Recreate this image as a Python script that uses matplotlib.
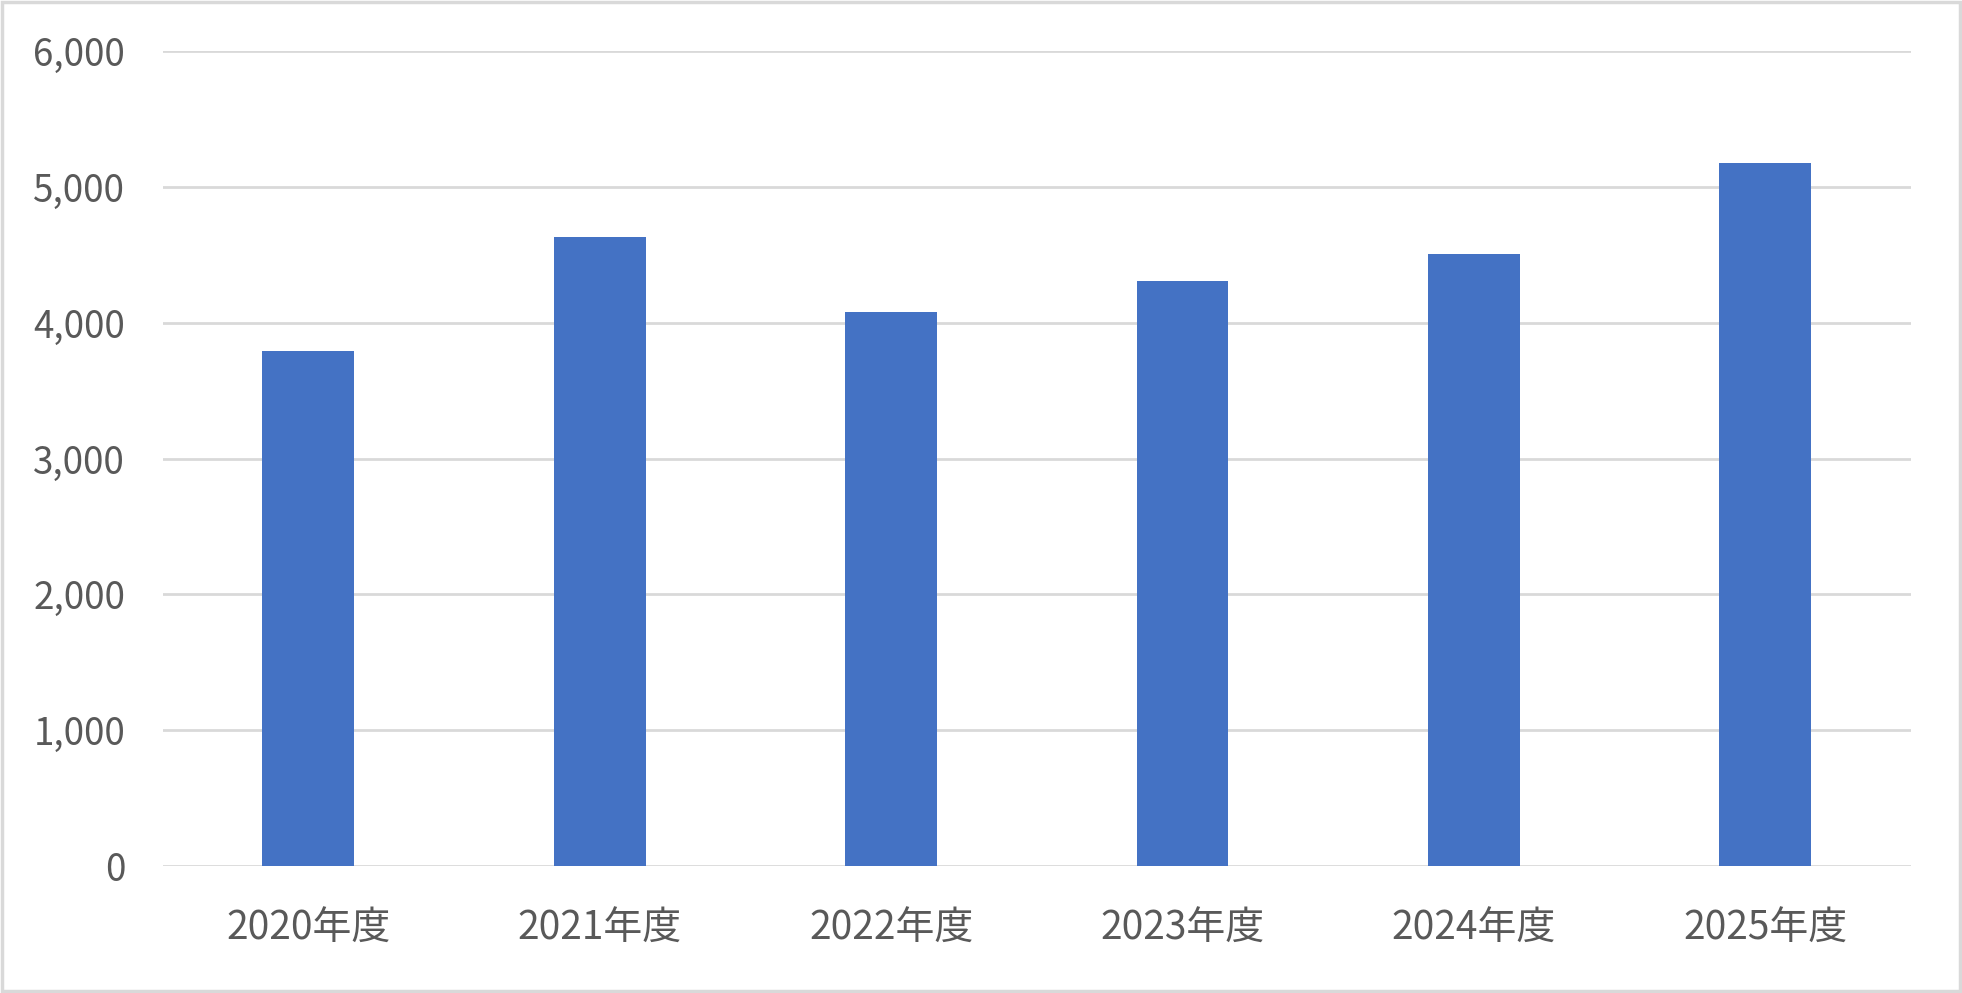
import matplotlib
matplotlib.use("Agg")
import matplotlib.pyplot as plt
import matplotlib.patches as patches
from matplotlib.ticker import FuncFormatter

# 年度ごとの値
categories = ['2020年度', '2021年度', '2022年度', '2023年度', '2024年度', '2025年度']
values = [3790, 4630, 4080, 4310, 4510, 5180]
y_ticks = [0, 1000, 2000, 3000, 4000, 5000, 6000]

plt.rcParams['font.family'] = ['Noto Sans CJK JP', 'DejaVu Sans']

fig = plt.figure(figsize=(19.62, 9.93), dpi=100)
ax = fig.add_axes([0.0829, 0.128, 0.891, 0.8203])

x = range(len(categories))
ax.bar(x, values, width=0.315, color='#4472C4', zorder=3)

ax.set_xlim(-0.5, len(categories) - 0.5)
ax.set_ylim(0, 6000)
ax.set_yticks(y_ticks)
ax.yaxis.set_major_formatter(FuncFormatter(lambda v, p: f'{int(v):,}'))
ax.set_xticks(list(x))
ax.set_xticklabels(categories)

ax.grid(True, axis='y', color='#D9D9D9', linewidth=2.0, zorder=0)
for s in ax.spines.values():
    s.set_visible(False)

ax.tick_params(axis='y', length=0, pad=27, labelsize=26.5, labelcolor='#595959')
ax.tick_params(axis='x', length=0, pad=31, labelsize=28, labelcolor='#595959')

# 外枠
border = patches.Rectangle((0.001, 0.002), 0.998, 0.996, transform=fig.transFigure,
                           fill=False, edgecolor='#D9D9D9', linewidth=2.5)
fig.patches.append(border)

fig.savefig('out.png', dpi=100)
